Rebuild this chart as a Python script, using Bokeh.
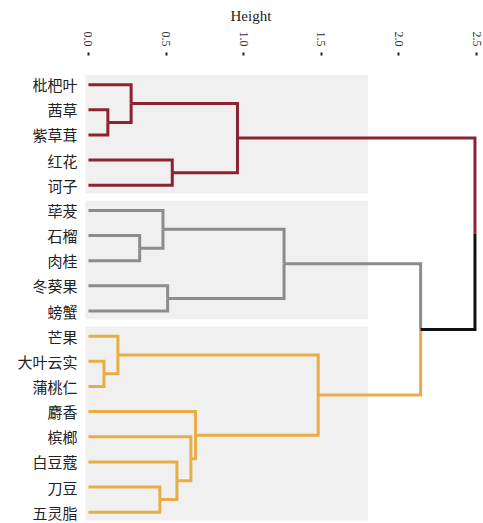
import math
from bokeh.plotting import figure
from bokeh.models import Range1d, FixedTicker
from bokeh.embed import file_html
from bokeh.resources import INLINE

# ---- data ----
leaves = ["枇杷叶", "茜草", "紫草茸", "红花", "诃子",
          "荜茇", "石榴", "肉桂", "冬葵果", "螃蟹",
          "芒果", "大叶云实", "蒲桃仁", "麝香", "槟榔", "白豆蔻", "刀豆", "五灵脂"]
leaf_group = [0, 0, 0, 0, 0,
              1, 1, 1, 1, 1,
              2, 2, 2, 2, 2, 2, 2, 2]
group_colors = ["#8B2332", "#8C8C8C", "#E8AD45"]
# linkage: (child_a, child_b, height); new nodes numbered from len(leaves)
merge_a = [1, 0, 3, 19, 6, 5, 8, 23, 11, 10, 16, 15, 14, 13, 27, 25, 21]
merge_b = [2, 18, 4, 20, 7, 22, 9, 24, 12, 26, 17, 28, 29, 30, 31, 32, 33]
merge_h = [0.125, 0.275, 0.54, 0.96, 0.33, 0.48, 0.51, 1.26,
           0.10, 0.19, 0.46, 0.57, 0.66, 0.69, 1.48, 2.14, 2.49]
x_ticks = [0.0, 0.5, 1.0, 1.5, 2.0, 2.5]
x_tick_labels = ["0.0", "0.5", "1.0", "1.5", "2.0", "2.5"]

# ---- compute node positions / colors ----
n = len(leaves)
pos_x = {i: 0.0 for i in range(n)}
pos_y = {i: float(i) for i in range(n)}
col = {i: group_colors[leaf_group[i]] for i in range(n)}
xs, ys, cs = [], [], []
for k, (a, b, h) in enumerate(zip(merge_a, merge_b, merge_h)):
    node = n + k
    ym = (pos_y[a] + pos_y[b]) / 2.0
    for c in (a, b):
        xs.append([pos_x[c], h, h])
        ys.append([pos_y[c], pos_y[c], ym])
        cs.append(col[c])
    pos_x[node] = h
    pos_y[node] = ym
    col[node] = col[a] if col[a] == col[b] else "#111111"

# ---- figure ----
p = figure(width=483, height=523, output_backend="svg", toolbar_location=None,
           x_range=Range1d(-0.019, 2.545), y_range=Range1d(17.45, -1.16),
           x_axis_location="above", min_border_left=85, min_border_right=0,
           min_border_top=55, min_border_bottom=0)
p.outline_line_color = None
p.grid.grid_line_color = None
p.background_fill_color = "white"
p.border_fill_color = "white"

# cluster bands
bl, br, bt, bb = [], [], [], []
for g in range(len(group_colors)):
    idx = [i for i in range(n) if leaf_group[i] == g]
    bl.append(-0.025); br.append(1.80)
    bt.append(min(idx) - 0.38); bb.append(max(idx) + 0.33)
p.quad(left=bl, right=br, top=bt, bottom=bb, fill_color="#F0F0F0", line_color=None)

p.multi_line(xs=xs, ys=ys, line_color=cs, line_width=3, line_join="miter", line_cap="butt")

# top axis
xa = p.xaxis[0]
xa.ticker = FixedTicker(ticks=x_ticks)
xa.major_label_overrides = {t: l for t, l in zip(x_ticks, x_tick_labels)}
xa.major_label_orientation = -math.pi / 2
xa.axis_line_color = None
xa.major_tick_out = 3
xa.major_tick_in = 0
xa.minor_tick_line_color = None
xa.major_tick_line_color = "#222222"
xa.major_tick_line_width = 2
xa.major_label_standoff = 6
xa.major_label_text_font = "Liberation Serif"
xa.major_label_text_font_size = "12px"
xa.major_label_text_color = "#333333"

ya = p.yaxis[0]
ya.ticker = FixedTicker(ticks=list(range(n)))
ya.major_label_overrides = {i: leaves[i] for i in range(n)}
ya.axis_line_color = None
ya.major_tick_line_color = None
ya.minor_tick_line_color = None
ya.major_tick_out = 0
ya.major_tick_in = 0
ya.major_label_standoff = 8
ya.major_label_text_font = "Noto Sans CJK SC"
ya.major_label_text_font_size = "15px"
ya.major_label_text_color = "#222222"

p.title.text = "Height"
p.title.align = "left"
p.title.offset = 145
p.title.text_font = "Liberation Serif"
p.title.text_font_size = "15px"
p.title.text_font_style = "normal"
p.title.text_color = "#222222"

open("out.html", "w").write(file_html(p, INLINE))
